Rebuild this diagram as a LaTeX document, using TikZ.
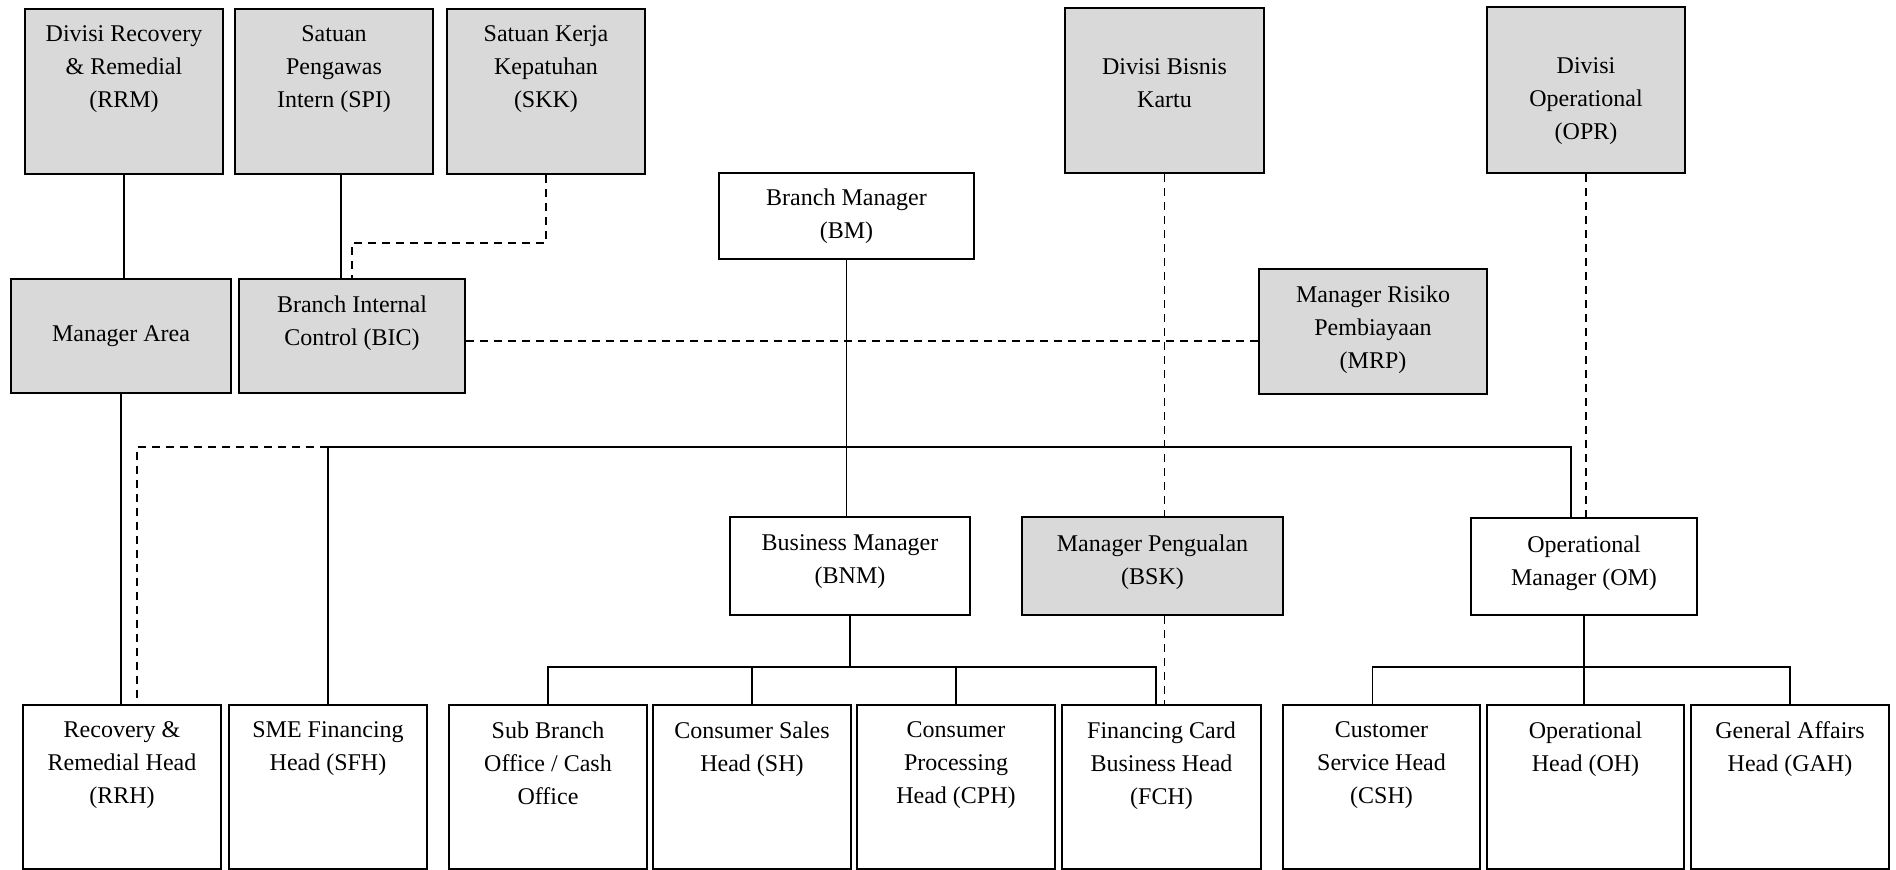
\documentclass[tikz,border=0pt]{standalone}
\usepackage{fontspec}
\setmainfont{Liberation Serif}
\usepackage{tikz}
\usetikzlibrary{positioning}
\usetikzlibrary{fit}
\definecolor{unitgray}{HTML}{D9D9D9}

\begin{document}
\begin{tikzpicture}[x=0.5pt, y=-0.5pt,
    box/.style={draw, line width=0.9pt, inner sep=0pt, fill=white},
    grey/.style={box, fill=unitgray},
    lbl/.style={align=center, inner sep=0pt, font=\fontsize{12}{16.5}\selectfont},
    link/.style={line width=0.7pt},
    staff/.style={line width=0.7pt, dash pattern=on 4pt off 3pt}]
  \useasboundingbox (0,0) rectangle (1896,869);

  % divisions at the top
  \node[grey, fit={(25,9) (223,174)}] (rrm) {};
  \node[grey, fit={(235,9) (433,174)}] (spi) {};
  \node[grey, fit={(447,9) (645,174)}] (skk) {};
  \node[grey, fit={(1065,8) (1264,173)}] (kartu) {};
  \node[grey, fit={(1487,7) (1685,173)}] (opr) {};
  \node[lbl, below=8.5pt of rrm.north] (rrm-t) {Divisi Recovery\\ \& Remedial\\ (RRM)};
  \node[lbl, below=8.5pt of spi.north] (spi-t) {Satuan\\ Pengawas\\ Intern (SPI)};
  \node[lbl, below=8.5pt of skk.north] (skk-t) {Satuan Kerja\\ Kepatuhan\\ (SKK)};
  \node[lbl, below=25.5pt of kartu.north] (kartu-t) {Divisi Bisnis\\ Kartu};
  \node[lbl, below=25.5pt of opr.north] (opr-t) {Divisi\\ Operational\\ (OPR)};

  % branch level
  \node[box, fit={(719,173) (974,259)}] (bm) {};
  \node[grey, fit={(11,279) (231,393)}] (marea) {};
  \node[grey, fit={(239,279) (465,393)}] (bic) {};
  \node[grey, fit={(1259,269) (1487,394)}] (mrp) {};
  \node[lbl, below=8pt of bm.north] (bm-t) {Branch Manager\\ (BM)};
  \node[lbl, below=23.5pt of marea.north] (marea-t) {Manager Area};
  \node[lbl, below=8.5pt of bic.north] (bic-t) {Branch Internal\\ Control (BIC)};
  \node[lbl, below=8.5pt of mrp.north] (mrp-t) {Manager Risiko\\ Pembiayaan\\ (MRP)};

  % managers
  \node[box, fit={(730,517) (970,615)}] (bnm) {};
  \node[grey, fit={(1022,517) (1283,615)}] (bsk) {};
  \node[box, fit={(1471,518) (1697,615)}] (om) {};
  \node[lbl, below=9pt of bnm.north] (bnm-t) {Business Manager\\ (BNM)};
  \node[lbl, below=9pt of bsk.north] (bsk-t) {Manager Pengualan\\ (BSK)};
  \node[lbl, below=9pt of om.north] (om-t) {Operational\\ Manager (OM)};

  % heads
  \node[box, fit={(23,705) (221,869)}] (rrh) {};
  \node[box, fit={(229,705) (427,869)}] (sfh) {};
  \node[box, fit={(449,705) (647,869)}] (sbo) {};
  \node[box, fit={(653,705) (851,869)}] (sh) {};
  \node[box, fit={(857,705) (1055,869)}] (cph) {};
  \node[box, fit={(1062,705) (1261,869)}] (fch) {};
  \node[box, fit={(1283,705) (1480,869)}] (csh) {};
  \node[box, fit={(1487,705) (1684,869)}] (oh) {};
  \node[box, fit={(1691,705) (1889,869)}] (gah) {};
  \node[lbl, below=8.5pt of rrh.north] (rrh-t) {Recovery \&\\ Remedial Head\\ (RRH)};
  \node[lbl, below=8.5pt of sfh.north] (sfh-t) {SME Financing\\ Head (SFH)};
  \node[lbl, below=8.5pt of sbo.north] (sbo-t) {Sub Branch\\ Office / Cash\\ Office};
  \node[lbl, below=8.5pt of sh.north] (sh-t) {Consumer Sales\\ Head (SH)};
  \node[lbl, below=8.5pt of cph.north] (cph-t) {Consumer\\ Processing\\ Head (CPH)};
  \node[lbl, below=8.5pt of fch.north] (fch-t) {Financing Card\\ Business Head\\ (FCH)};
  \node[lbl, below=8.5pt of csh.north] (csh-t) {Customer\\ Service Head\\ (CSH)};
  \node[lbl, below=8.5pt of oh.north] (oh-t) {Operational\\ Head (OH)};
  \node[lbl, below=8.5pt of gah.north] (gah-t) {General Affairs\\ Head (GAH)};

  \coordinate (bus) at (0,447);
  \coordinate (lowbus) at (0,667);

  % lines of command
  \draw[link] (rrm.south) -- (rrm.south |- marea.north);
  \draw[link] ([xshift=3.5pt]spi.south) -- ([xshift=3.5pt]spi.south |- bic.north);
  \draw[link] (marea.south) -- (marea.south |- rrh.north);
  \draw[link] (bm.south) -- (bm.south |- bnm.north);
  \draw[link] (sfh.north) -- (sfh.north |- bus) -| ([xshift=-6.5pt]om.north);
  \draw[link] (bnm.south) -- (bnm.south |- lowbus);
  \draw[link] (sbo.north) -- (sbo.north |- lowbus) -| ([xshift=-2.75pt]fch.north);
  \foreach \n in {sh,cph}
    \draw[link] (\n.north) -- (\n.north |- lowbus);
  \draw[link] (om.south) -- (om.south |- oh.north);
  \draw[link] ([xshift=-4.5pt]csh.north) -- ([xshift=-4.5pt]csh.north |- lowbus) -| (gah.north);

  % functional lines
  \draw[staff] (skk.south) -- ++(0,68) -| (bic.north);
  \draw[staff] ([yshift=-2.5pt]bic.east) -- ([yshift=-2.5pt]bic.east -| mrp.west);
  \draw[staff] (kartu.south) -- (kartu.south |- bsk.north);
  \draw[staff] (kartu.south |- bsk.south) -- (kartu.south |- fch.north);
  \draw[staff] (opr.south) -- (opr.south |- om.north);
  \draw[staff] (sfh.north |- bus) -| ([xshift=7.5pt]rrh.north);
\end{tikzpicture}
\end{document}
